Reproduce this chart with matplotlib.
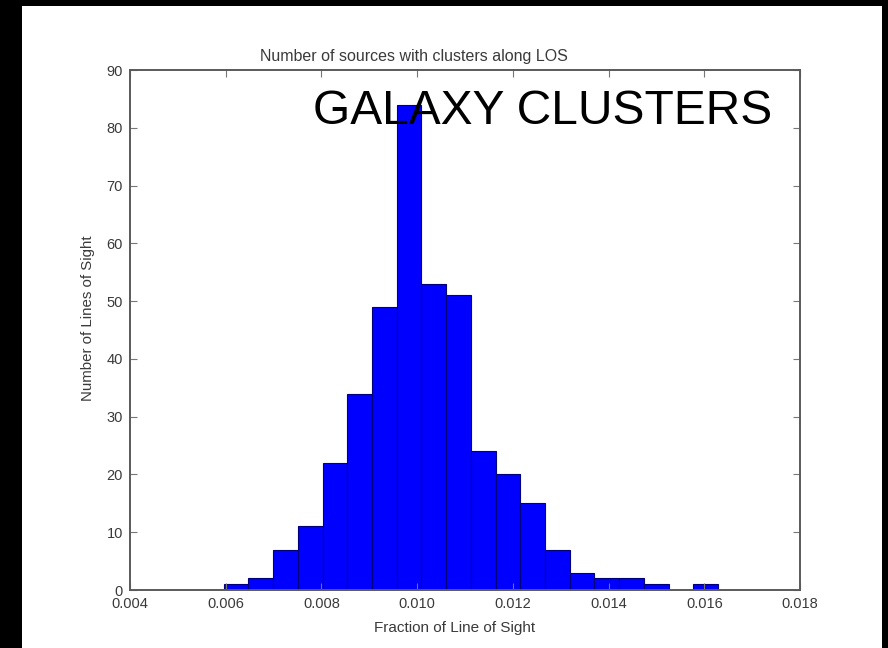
import numpy as np
import matplotlib
matplotlib.use("Agg")
import matplotlib.pyplot as plt
from matplotlib.patches import Rectangle
from matplotlib.ticker import FormatStrFormatter

# Histogram of line-of-sight fractions (20 equal-width bins)
bin_lo = 0.005958
bin_hi = 0.016286
counts = [1, 2, 7, 11, 22, 34, 49, 84, 53, 51, 24, 20, 15, 7, 3, 2, 2, 1, 0, 1]
x_ticks = [0.004, 0.006, 0.008, 0.010, 0.012, 0.014, 0.016, 0.018]
y_ticks = [0, 10, 20, 30, 40, 50, 60, 70, 80, 90]

title = "Number of sources with clusters along LOS"
x_label = "Fraction of Line of Sight"
y_label = "Number of Lines of Sight"
banner = "GALAXY CLUSTERS"

plt.rcParams["font.family"] = ["Liberation Sans", "DejaVu Sans"]

W, H = 888, 648
fig = plt.figure(figsize=(W / 100, H / 100), dpi=100, facecolor="black")

# white slide area inside the black frame
fig.patches.append(Rectangle((22 / W, 0), (882 - 22) / W, 642 / H,
                             transform=fig.transFigure, facecolor="white",
                             edgecolor="none", zorder=-10))

ax = fig.add_axes([130 / W, (H - 590) / H, (800 - 130) / W, (590 - 70) / H])
ax.set_facecolor("white")

edges = np.linspace(bin_lo, bin_hi, len(counts) + 1)
ax.bar(edges[:-1], counts, width=np.diff(edges), align="edge",
       color="#0000ff", edgecolor="#00007a", linewidth=0.8)

ax.set_xlim(x_ticks[0], x_ticks[-1])
ax.set_ylim(y_ticks[0], y_ticks[-1])
ax.set_xticks(x_ticks)
ax.set_yticks(y_ticks)
ax.xaxis.set_major_formatter(FormatStrFormatter("%.3f"))

text_col = "#3a3a3a"
for s in ax.spines.values():
    s.set_color("#5a5a5a")
    s.set_linewidth(1.4)
ax.tick_params(direction="in", length=5, width=0.8, color="#777777",
               top=True, right=True, labelsize=10.5, labelcolor=text_col,
               pad=5)

fig.text(414 / W, 1 - 57 / H, title, ha="center", va="center",
         fontsize=11.5, color=text_col)
fig.text(455 / W, 1 - 628 / H, x_label, ha="center", va="center",
         fontsize=11, color=text_col)
fig.text(88 / W, 1 - 318 / H, y_label, ha="center", va="center",
         rotation=90, fontsize=10.8, color=text_col)

fig.text(313 / W, 1 - 124 / H, banner, ha="left", va="baseline",
         fontsize=34.5, color="black", zorder=5)

fig.savefig("out.png", dpi=100, facecolor=fig.get_facecolor())
